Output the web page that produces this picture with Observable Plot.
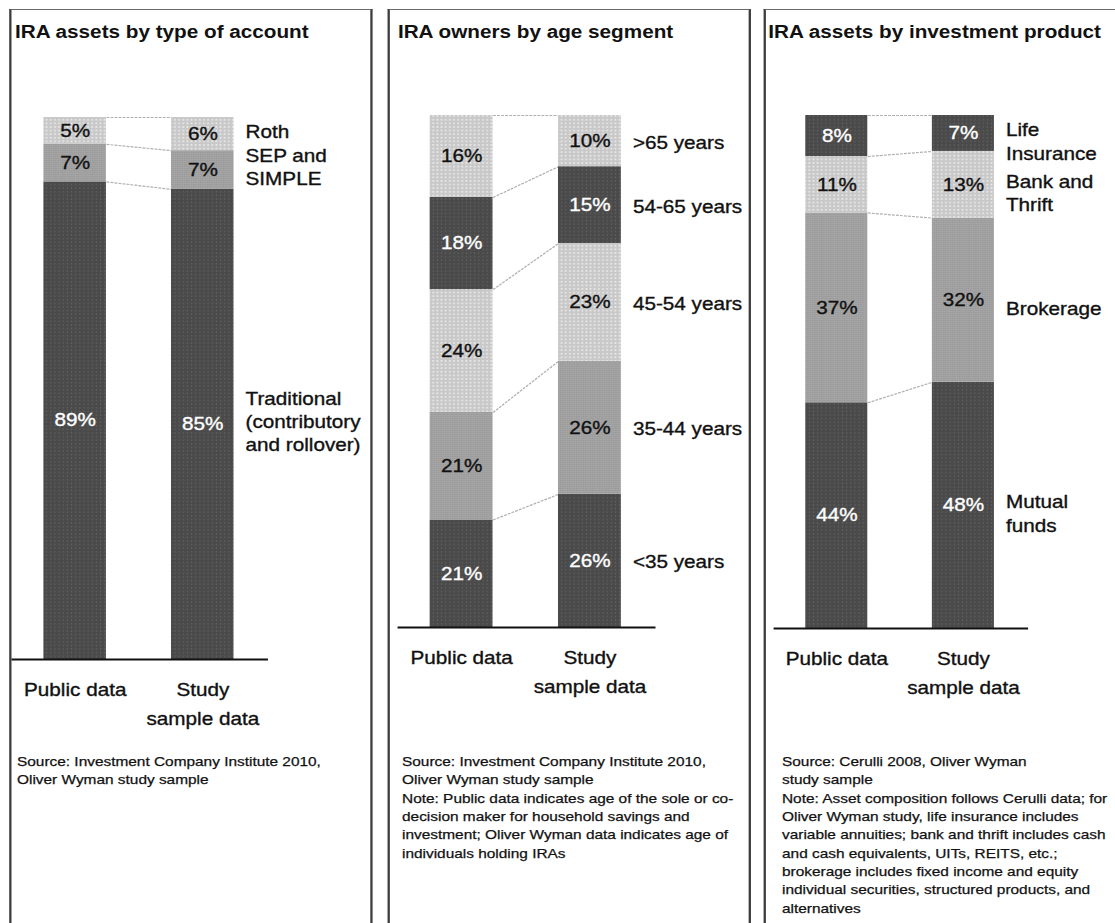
<!DOCTYPE html>
<html>
<head>
<meta charset="utf-8">
<script src="https://cdn.jsdelivr.net/npm/d3@7"></script>
<script src="https://cdn.jsdelivr.net/npm/@observablehq/plot@0.6"></script>
<style>
  html, body { margin: 0; padding: 0; background: #fff; overflow: hidden; }
  body { width: 1115px; height: 923px; position: relative; }
  #page {
    position: absolute; left: 0; top: 0; width: 970px; height: 923px;
    transform: scaleX(1.15); transform-origin: 0 0;
    font-family: "Liberation Sans", Arial, Helvetica, sans-serif; color: #111;
  }
  .panel {
    position: absolute; top: 9px; width: 312.5px; height: 1000px;
    border: 2px solid #3c3c3c; border-top: 1.5px solid #6a6a6a; border-bottom: none;
  }
  .title { position: absolute; top: 21px; font-weight: bold; font-size: 18px; line-height: 22px; white-space: nowrap; }
  .source { position: absolute; top: 753px; font-size: 13.4px; line-height: 18.35px; white-space: pre; -webkit-text-stroke: 0.25px #111; }
  .chart { position: absolute; top: 100px; }
</style>
</head>
<body>
<svg width="0" height="0" style="position:absolute">
  <defs>
    <pattern id="shade-dark" width="3.6" height="3.6" patternUnits="userSpaceOnUse">
      <rect width="3.6" height="3.6" fill="#4a4a4a"/>
      <rect x="1.3" y="1.3" width="1" height="1" fill="#707070"/>
    </pattern>
    <pattern id="shade-mid" width="2" height="2" patternUnits="userSpaceOnUse">
      <rect width="2" height="2" fill="#a4a4a4"/>
      <rect width="1" height="1" fill="#979797"/>
    </pattern>
    <pattern id="shade-light" width="3.6" height="3.6" patternUnits="userSpaceOnUse">
      <rect width="3.6" height="3.6" fill="#c8c8c8"/>
      <rect x="1" y="1" width="1.5" height="1.5" fill="#eeeeee"/>
    </pattern>
  </defs>
</svg>
<div id="page"></div>
<script>
// Bar groups along the x axis
const groups = ["Public data", "Study\nsample data"];

// IRA assets by type of account (listed bottom to top)
const accountTypes = ["Traditional\n(contributory\nand rollover)", "SEP and\nSIMPLE", "Roth"];
const accountPublic = [89, 7, 5];
const accountStudy = [85, 7, 6];
const accountShades = ["dark", "mid", "light"];

// IRA owners by age segment (bottom to top)
const ageSegments = ["<35 years", "35-44 years", "45-54 years", "54-65 years", ">65 years"];
const agePublic = [21, 21, 24, 18, 16];
const ageStudy = [26, 26, 23, 15, 10];
const ageShades = ["dark", "mid", "light", "dark", "light"];

// IRA assets by investment product (bottom to top)
const productTypes = ["Mutual\nfunds", "Brokerage", "Bank and\nThrift", "Life\nInsurance"];
const productPublic = [44, 37, 11, 8];
const productStudy = [48, 32, 13, 7];
const productShades = ["dark", "mid", "light", "dark"];

const titles = ["IRA assets by type of account", "IRA owners by age segment", "IRA assets by investment product"];
const sources = [
  "Source: Investment Company Institute 2010,\nOliver Wyman study sample",
  "Source: Investment Company Institute 2010,\nOliver Wyman study sample\nNote: Public data indicates age of the sole or co-\ndecision maker for household savings and\ninvestment; Oliver Wyman data indicates age of\nindividuals holding IRAs",
  "Source: Cerulli 2008, Oliver Wyman\nstudy sample\nNote: Asset composition follows Cerulli data; for\nOliver Wyman study, life insurance includes\nvariable annuities; bank and thrift includes cash\nand cash equivalents, UITs, REITS, etc.;\nbrokerage includes fixed income and equity\nindividual securities, structured products, and\nalternatives"
];

const BAR_W = 0.49;            // bar width in units of the bar-to-bar step
const X_DOMAIN = [-0.25, 1.76];
const shadeFill = s => `url(#shade-${s})`;

// Stack each bar to 100% of its own total
function stackRows(names, publicVals, studyVals, shades) {
  const rows = [];
  [publicVals, studyVals].forEach((vals, g) => {
    const total = d3.sum(vals);
    let acc = 0;
    vals.forEach((v, i) => {
      rows.push({group: g, name: names[i], value: v, shade: shades[i], y1: acc / total, y2: (acc + v) / total});
      acc += v;
    });
  });
  return rows;
}

function drawPanel(cfg) {
  const page = document.getElementById("page");
  const panel = document.createElement("div");
  panel.className = "panel";
  panel.style.left = cfg.left + "px";
  page.appendChild(panel);

  const title = document.createElement("div");
  title.className = "title";
  title.style.left = cfg.titleX + "px";
  title.textContent = cfg.title;
  page.appendChild(title);

  const rows = stackRows(cfg.names, cfg.publicVals, cfg.studyVals, cfg.shades);
  const left = rows.filter(d => d.group === 0);
  const right = rows.filter(d => d.group === 1);
  const links = left.map((d, i) => ({y1: d.y2, y2: right[i].y2}));

  const chart = Plot.plot({
    width: 312,
    height: cfg.height,
    marginTop: cfg.marginTop,
    marginBottom: 90,
    marginLeft: cfg.marginLeft,
    marginRight: cfg.marginRight,
    x: {domain: X_DOMAIN},
    y: {domain: [0, 1], axis: null},
    color: {type: "identity"},
    style: {fontFamily: "'Liberation Sans', Arial, sans-serif", fontSize: "18px", background: "transparent", overflow: "visible", color: "#111"},
    marks: [
      Plot.link(links, {x1: BAR_W, x2: 1, y1: "y1", y2: "y2", stroke: "#b0b0b0", strokeWidth: 1.2, strokeDasharray: "2.5,1"}),
      Plot.rect(rows, {x1: d => d.group, x2: d => d.group + BAR_W, y1: "y1", y2: "y2", fill: d => shadeFill(d.shade)}),
      Plot.text(rows, {
        x: d => d.group + BAR_W / 2, y: d => (d.y1 + d.y2) / 2,
        text: d => d.value + "%", fontSize: 18,
        fill: d => d.shade === "dark" ? "#ffffff" : "#111111"
      }),
      Plot.text(right, {
        x: 1 + BAR_W, y: d => (d.y1 + d.y2) / 2, text: "name",
        textAnchor: "start", dx: 10, dy: cfg.labelDy, lineHeight: 1.3, fontSize: 18, fill: "#111"
      }),
      Plot.ruleY([0], {stroke: "#111", strokeWidth: 2}),
      Plot.axisX({
        ticks: groups.map((_, i) => i + BAR_W / 2),
        tickFormat: d => groups[Math.round(d - BAR_W / 2)],
        tickSize: 0, tickPadding: 16, lineHeight: 1.6, fontSize: 18, fill: "#111", label: null
      })
    ]
  });
  chart.classList.add("chart");
  chart.style.left = (cfg.left + 2) + "px";
  chart.style.position = "absolute";
  chart.style.top = "100px";
  page.appendChild(chart);

  // Slightly heavier glyph outlines, in each label's own colour
  chart.querySelectorAll("text").forEach(t => {
    const fill = getComputedStyle(t).fill;
    t.style.stroke = fill;
    t.style.strokeWidth = "0.35px";
  });

  const src = document.createElement("div");
  src.className = "source";
  src.style.left = cfg.sourceX + "px";
  src.textContent = cfg.source;
  page.appendChild(src);
}

drawPanel({
  left: 7.8, titleX: 13, sourceX: 14.8, title: titles[0], source: sources[0],
  names: accountTypes, publicVals: accountPublic, studyVals: accountStudy, shades: accountShades,
  marginTop: 17, height: 17 + 542 + 90, marginLeft: 0, marginRight: 89, labelDy: -4
});
drawPanel({
  left: 336.5, titleX: 346, sourceX: 349.6, title: titles[1], source: sources[1],
  names: ageSegments, publicVals: agePublic, studyVals: ageStudy, shades: ageShades,
  marginTop: 15, height: 15 + 512 + 90, marginLeft: 6.7, marginRight: 81, labelDy: 0
});
drawPanel({
  left: 663.5, titleX: 668, sourceX: 680, title: titles[2], source: sources[2],
  names: productTypes, publicVals: productPublic, studyVals: productStudy, shades: productShades,
  marginTop: 15, height: 15 + 513 + 90, marginLeft: 6.7, marginRight: 84, labelDy: 7
});
</script>
</body>
</html>
